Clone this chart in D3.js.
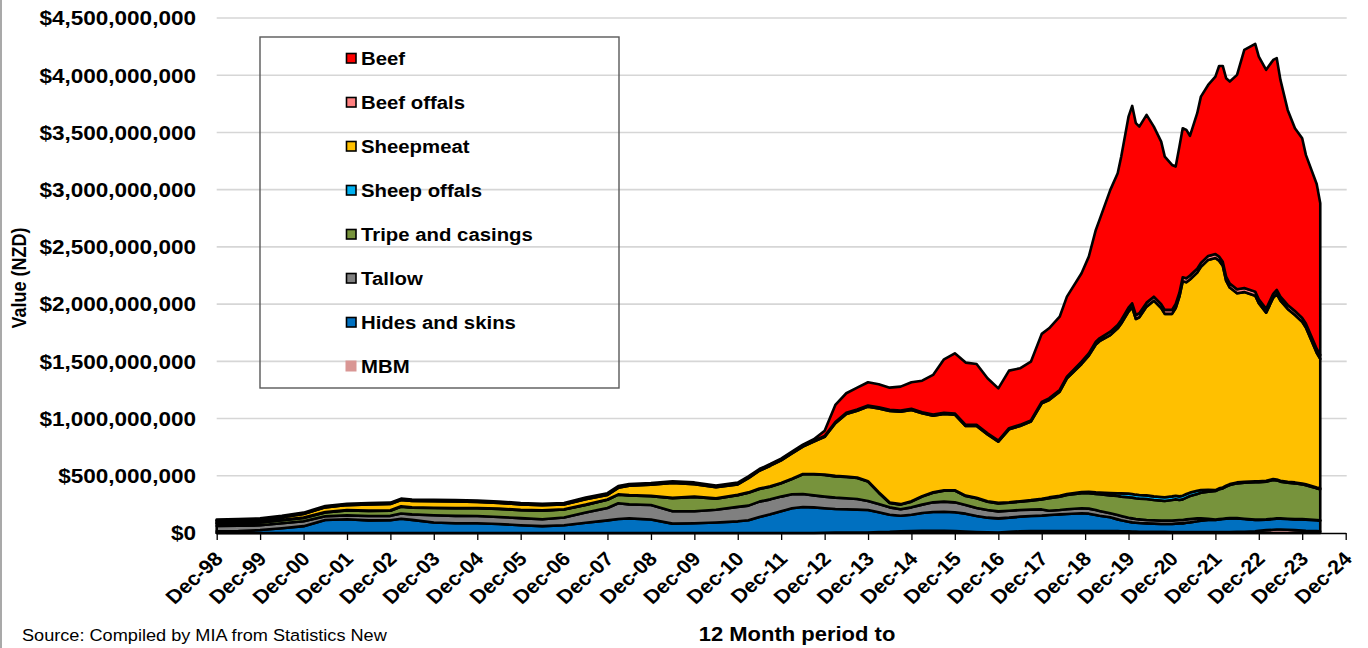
<!DOCTYPE html>
<html><head><meta charset="utf-8">
<script src="https://cdn.jsdelivr.net/npm/d3@7"></script>
<style>
html,body{margin:0;padding:0;background:#fff;}
svg{display:block;font-family:"Liberation Sans",Arial,Helvetica,sans-serif;}
</style></head><body>
<svg id="chart" width="1368" height="648"></svg>
<script>
// 12-month rolling values, NZ$ million
const dates = [
 "1998-12","1999-06","1999-12","2000-06","2000-12","2001-06","2001-12","2002-06","2002-12","2003-03",
 "2003-06","2003-12","2004-06","2004-12","2005-06","2005-12","2006-06","2006-12","2007-06","2007-12",
 "2008-03","2008-06","2008-12","2009-06","2009-12","2010-06","2010-12","2011-03","2011-06","2011-09",
 "2011-12","2012-03","2012-06","2012-09","2012-12","2013-03","2013-06","2013-09","2013-12","2014-03",
 "2014-06","2014-09","2014-12","2015-03","2015-06","2015-09","2015-12","2016-03","2016-06","2016-09",
 "2016-12","2017-03","2017-06","2017-09","2017-12","2018-02","2018-05","2018-07","2018-11","2019-01",
 "2019-03","2019-04","2019-07","2019-09","2019-10","2019-12","2020-01","2020-02","2020-03","2020-05",
 "2020-07","2020-09","2020-10","2020-12","2021-01","2021-02","2021-03","2021-04","2021-05","2021-07",
 "2021-08","2021-10","2021-12","2022-01","2022-02","2022-03","2022-04","2022-06","2022-08","2022-11",
 "2022-12","2023-02","2023-04","2023-05","2023-06","2023-08","2023-10","2023-12","2024-01","2024-04",
 "2024-05"];

const mbm = [
 0,0,0,0,0,0,0,0,0,0,
 0,0,0,0,0,0,0,0,0,0,
 0,0,0,0,0,0,0,0,0,0,
 0,0,0,0,2,3,4,5,5,8,
 10,15,18,20,20,20,18,12,8,6,
 5,10,15,18,18,18,18,18,18,18,
 18,18,18,16,15,14,12,12,10,10,
 10,10,10,8,8,8,8,8,8,8,
 8,8,8,8,8,8,8,10,10,15,
 20,25,28,30,30,28,25,22,20,18,
 15];
const hidesAndSkins = [
 15,18,26,42,60,114,120,110,112,125,
 115,92,85,85,78,68,60,68,90,110,
 122,128,118,82,85,92,102,111,140,163,
 189,216,227,224,214,207,203,199,196,173,
 150,136,142,155,164,166,163,157,141,128,
 123,124,128,131,134,139,145,148,154,151,
 139,133,119,103,96,85,81,78,77,74,
 72,69,69,71,74,76,76,82,85,94,
 100,106,106,111,114,117,120,118,112,99,
 94,92,94,95,95,94,94,97,97,93,
 93];
const tallow = [
 47,45,42,43,43,33,34,38,38,45,
 48,63,65,64,62,62,60,67,90,108,
 138,122,127,108,105,111,126,128,134,131,
 129,122,114,105,102,99,96,93,79,72,
 64,56,64,73,84,88,87,76,69,67,
 61,61,58,55,54,38,38,41,44,44,
 44,41,35,38,38,35,35,32,32,30,
 29,29,29,29,29,30,30,29,29,26,
 20,11,4,3,3,3,3,3,3,3,
 3,3,3,3,3,3,3,3,3,3,
 3];
const tripeAndCasings = [
 22,23,24,27,29,33,44,45,45,60,
 59,63,66,67,70,70,75,70,65,72,
 75,78,77,115,125,97,102,113,111,111,
 116,134,172,184,189,186,186,184,169,99,
 38,41,50,70,84,96,102,78,85,73,
 70,70,73,79,88,108,117,125,131,134,
 140,146,157,166,169,178,181,181,181,183,
 177,175,172,180,183,174,180,190,201,213,
 224,236,249,260,265,277,288,303,315,326,
 326,329,338,332,321,315,312,303,297,276,
 271];
const sheepOffals = [
 3,3,3,3,3,3,3,3,3,3,
 3,3,3,3,3,3,3,3,3,3,
 3,3,3,3,3,3,3,3,3,3,
 3,3,3,3,3,4,4,4,4,4,
 4,4,4,4,4,4,4,4,4,4,
 4,4,4,4,5,8,8,8,10,12,
 14,16,20,24,28,32,32,32,32,32,
 32,32,32,32,32,32,32,32,30,28,
 24,16,8,8,8,8,8,8,8,8,
 8,8,8,8,8,8,8,8,8,8,
 8];
const sheepmeat = [
 19,21,21,23,31,41,43,54,55,55,
 55,57,57,53,50,47,45,42,47,40,
 57,82,96,129,109,97,92,125,156,180,
 198,221,239,282,330,461,547,584,651,733,
 800,808,797,724,669,666,660,608,628,584,
 535,637,657,686,834,851,909,1011,1120,1191,
 1292,1322,1380,1441,1485,1591,1631,1535,1553,1649,
 1710,1650,1603,1595,1640,1745,1874,1850,1862,1906,
 1949,2009,2028,1990,1937,1792,1718,1653,1657,1623,
 1557,1468,1584,1621,1573,1510,1463,1412,1370,1177,
 1131];
const beefOffals = [
 4,4,4,4,4,4,4,4,4,4,
 4,4,4,4,4,4,4,4,5,5,
 5,5,5,5,5,5,5,5,5,5,
 5,5,5,6,8,10,10,10,10,10,
 10,10,10,10,10,10,10,10,10,10,
 10,10,10,10,12,15,15,15,20,20,
 25,25,30,30,30,35,35,35,35,35,
 35,35,35,35,35,35,35,35,35,35,
 35,35,35,35,35,35,35,35,35,35,
 35,35,35,35,35,35,35,35,35,35,
 35];
const beef = [
 8,8,8,8,8,8,8,8,8,8,
 8,8,8,8,8,8,8,8,10,10,
 10,10,10,10,10,10,10,10,10,10,
 10,10,12,15,46,149,171,191,203,200,
 194,209,232,275,346,468,526,544,532,480,
 456,503,494,514,595,612,640,699,773,845,
 976,1035,1239,1326,1428,1668,1725,1676,1631,1640,
 1486,1420,1339,1266,1201,1276,1302,1296,1220,1358,
 1453,1494,1550,1666,1711,1734,1765,1873,2081,2165,
 2120,2087,2044,2025,1894,1704,1597,1570,1474,1440,
 1326];

const seriesNames = ["MBM","Hides and skins","Tallow","Tripe and casings","Sheep offals","Sheepmeat","Beef offals","Beef"];
const seriesValues = [mbm, hidesAndSkins, tallow, tripeAndCasings, sheepOffals, sheepmeat, beefOffals, beef];
const seriesColors = ["#D99694","#0070C0","#808080","#77933C","#00B0F0","#FFC000","#FF8080","#FF0000"];
const legendOrder = ["Beef","Beef offals","Sheepmeat","Sheep offals","Tripe and casings","Tallow","Hides and skins","MBM"];

const yTickValues = [0,500e6,1000e6,1500e6,2000e6,2500e6,3000e6,3500e6,4000e6,4500e6];
const xTickDates = ["1998-12","1999-12","2000-12","2001-12","2002-12","2003-12","2004-12","2005-12","2006-12",
 "2007-12","2008-12","2009-12","2010-12","2011-12","2012-12","2013-12","2014-12","2015-12","2016-12",
 "2017-12","2018-12","2019-12","2020-12","2021-12","2022-12","2023-12","2024-12"];
const xTickLabels = ["Dec-98","Dec-99","Dec-00","Dec-01","Dec-02","Dec-03","Dec-04","Dec-05","Dec-06",
 "Dec-07","Dec-08","Dec-09","Dec-10","Dec-11","Dec-12","Dec-13","Dec-14","Dec-15","Dec-16",
 "Dec-17","Dec-18","Dec-19","Dec-20","Dec-21","Dec-22","Dec-23","Dec-24"];

const parse = d3.timeParse("%Y-%m");
const rows = dates.map((d,i)=>{
  const r = {date: parse(d)};
  seriesNames.forEach((n,k)=>{ r[n] = seriesValues[k][i]*1e6; });
  return r;
});

const svg = d3.select("#chart");
const SX = 1.1; // horizontal stretch of text seen in reference

const x = d3.scaleTime().domain([parse("1998-12"), parse("2024-12")]).range([216.7, 1345.7]);
const y = d3.scaleLinear().domain([0, 4.5e9]).range([533, 18]);
const color = d3.scaleOrdinal().domain(seriesNames).range(seriesColors);

// chart border (left edge)
svg.append("line").attr("x1",1).attr("x2",1).attr("y1",0).attr("y2",648)
  .attr("stroke","#8c8c8c").attr("stroke-width",1.5);

// gridlines
svg.append("g").selectAll("line").data(yTickValues.filter(v=>v>0)).join("line")
  .attr("x1", x.range()[0]).attr("x2", x.range()[1]+1)
  .attr("y1", d=>y(d)).attr("y2", d=>y(d))
  .attr("stroke","#d6d6d6").attr("stroke-width",1.6);

// stacked areas
const stack = d3.stack().keys(seriesNames);
const layers = stack(rows);
const area = d3.area()
  .x(d=>x(d.data.date))
  .y0(d=>y(d[0]))
  .y1(d=>y(d[1]));
svg.append("g").selectAll("path").data(layers).join("path")
  .attr("d", area)
  .attr("fill", d=>color(d.key))
  .attr("stroke","#000")
  .attr("stroke-width",2.6)
  .attr("stroke-linejoin","round");

// x axis
const xAxis = d3.axisBottom(x)
  .tickValues(xTickDates.map(parse))
  .tickSize(7).tickSizeOuter(0)
  .tickFormat((d,i)=>xTickLabels[i]);
const gx = svg.append("g").attr("transform","translate(0,533)").call(xAxis);
gx.select(".domain").attr("stroke","#000").attr("stroke-width",1.6);
gx.selectAll(".tick line").attr("stroke","#000").attr("stroke-width",1.3);
gx.selectAll(".tick text")
  .attr("y",0).attr("dy","0")
  .attr("text-anchor","end")
  .attr("transform",`translate(7,27) scale(${SX},1) rotate(-45)`)
  .style("font-family","'Liberation Sans',Arial,sans-serif")
  .style("font-size","19.5px").style("font-weight","bold").attr("fill","#000");

// y tick labels
const fmt = d3.format(",");
svg.append("g").selectAll("text").data(yTickValues).join("text")
  .attr("transform", d=>`translate(196,${y(d)}) scale(${SX},1)`)
  .attr("dy","0.36em")
  .attr("text-anchor","end")
  .style("font-size","20.5px").style("font-weight","bold")
  .text(d=>"$"+fmt(d));

// y axis title
svg.append("text")
  .attr("transform",`translate(26,278) scale(${SX},1) rotate(-90)`)
  .attr("text-anchor","middle")
  .style("font-size","18px").style("font-weight","bold")
  .text("Value (NZD)");

// x axis title
svg.append("text")
  .attr("transform",`translate(797,641) scale(${SX},1)`)
  .attr("text-anchor","middle")
  .style("font-size","20px").style("font-weight","bold")
  .text("12 Month period to");

// source
svg.append("text")
  .attr("transform",`translate(22,641) scale(${SX},1)`)
  .style("font-size","16.5px")
  .text("Source: Compiled by MIA from Statistics New");

// legend
const lg = svg.append("g");
lg.append("rect").attr("x",260).attr("y",37).attr("width",359).attr("height",351)
  .attr("fill","none").attr("stroke","#595959").attr("stroke-width",1.4);
const items = lg.selectAll("g.item").data(legendOrder).join("g").attr("class","item")
  .attr("transform",(d,i)=>`translate(0,${58.5+44*i})`);
items.append("rect")
  .attr("x", d=> d==="MBM"?345.5:346.5).attr("y", d=> d==="MBM"?-6:-5)
  .attr("width", d=> d==="MBM"?11:9.5).attr("height", d=> d==="MBM"?11:9.5)
  .attr("fill", d=>color(d))
  .attr("stroke", d=> d==="MBM"?"none":"#000").attr("stroke-width",1.6);
items.append("text")
  .attr("transform",`translate(361,0) scale(${SX},1)`)
  .attr("dy","0.36em")
  .style("font-size","18.5px").style("font-weight","bold")
  .text(d=>d);
</script>
</body></html>
